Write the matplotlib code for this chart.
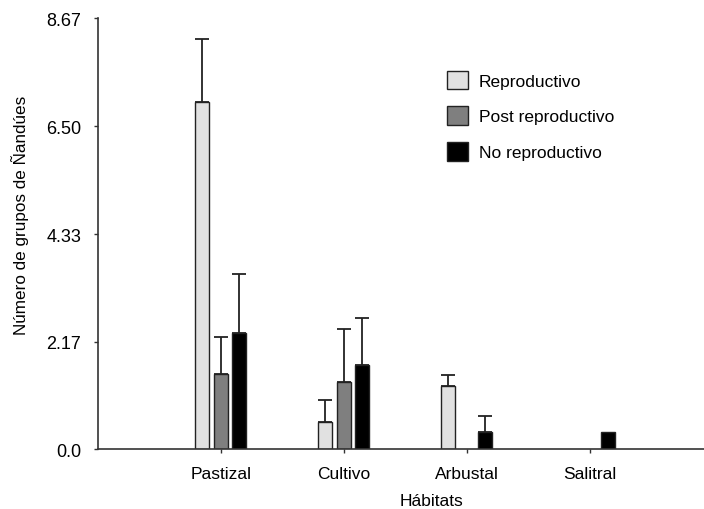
import matplotlib
matplotlib.use('Agg')
import matplotlib.pyplot as plt
import numpy as np

plt.rcParams['font.family'] = ['Liberation Sans', 'DejaVu Sans']

# --- data ---
habitats = ['Pastizal', 'Cultivo', 'Arbustal', 'Salitral']
series = ['Reproductivo', 'Post reproductivo', 'No reproductivo']
reproductivo = [7.0, 0.55, 1.27, 0.0]
post_reproductivo = [1.52, 1.35, 0.0, 0.0]
no_reproductivo = [2.34, 1.69, 0.35, 0.35]
err_reproductivo = [1.26, 0.45, 0.23, 0.0]
err_post = [0.74, 1.07, 0.0, 0.0]
err_no = [1.19, 0.96, 0.33, 0.0]
yticks = [0.0, 2.17, 4.33, 6.50, 8.67]
ytick_labels = ['0.0', '2.17', '4.33', '6.50', '8.67']

colors = ['#e1e1e1', '#7f7f7f', '#000000']
values = [reproductivo, post_reproductivo, no_reproductivo]
errors = [err_reproductivo, err_post, err_no]

fig = plt.figure(figsize=(7.04, 5.10), dpi=100)
ax = fig.add_axes([0.1388, 0.1167, 0.8612, 0.8451])

x = np.arange(1, len(habitats) + 1)
width = 0.115
offsets = [-0.15, 0.0, 0.15]

for vals, errs, col, off, name in zip(values, errors, colors, offsets, series):
    vals = np.array(vals)
    errs = np.array(errs)
    mask = vals > 0
    ax.bar(x[mask] + off, vals[mask], width, color=col, edgecolor='#222222',
           linewidth=1.0, label=name, zorder=2)
    emask = errs > 0
    ax.errorbar(x[emask] + off, vals[emask], yerr=[np.zeros(emask.sum()), errs[emask]],
                fmt='none', ecolor='#222222', elinewidth=1.3, capsize=5, capthick=1.3,
                zorder=1)

ax.set_xlim(0, 4.93)
ax.set_ylim(0, 8.67)
ax.set_yticks(yticks)
ax.set_yticklabels(ytick_labels)
ax.set_xticks(x)
ax.set_xticklabels(habitats)
ax.tick_params(axis='both', length=3, width=1, color='#333333')
ax.tick_params(axis='x', labelsize=12.5, pad=9)
ax.tick_params(axis='y', labelsize=13, pad=9)

for s in ['top', 'right']:
    ax.spines[s].set_visible(False)
for s in ['left', 'bottom']:
    ax.spines[s].set_color('#333333')
    ax.spines[s].set_linewidth(1.2)

ax.set_ylabel('Número de grupos de Ñandúes', fontsize=12.3)
ax.yaxis.set_label_coords(-0.113, 0.546)
ax.set_xlabel('Hábitats', fontsize=12.5)
ax.xaxis.set_label_coords(0.551, -0.10)

leg = ax.legend(loc='upper left', bbox_to_anchor=(0.55, 0.915), frameon=False,
                fontsize=12.5, handlelength=1.25, handleheight=1.25,
                labelspacing=1.0, handletextpad=0.6)

plt.savefig('out.png', dpi=100)
